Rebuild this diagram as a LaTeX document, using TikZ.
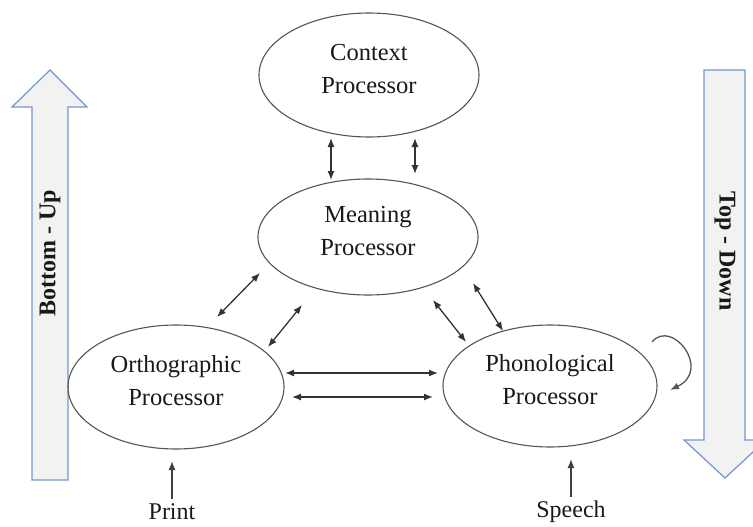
\documentclass[tikz,border=0pt]{standalone}
\usepackage{fontspec}
\setmainfont{Liberation Serif}
\usetikzlibrary{shapes.geometric,arrows.meta}
\definecolor{arrowblue}{RGB}{112,150,205}
\definecolor{arrowfill}{RGB}{242,242,242}
\definecolor{edgegray}{RGB}{85,85,85}
\definecolor{txt}{RGB}{25,25,25}
\begin{document}
\begin{tikzpicture}[x=1pt,y=-1pt,
  proc/.style={ellipse, draw=edgegray, line width=1.1pt, align=center, inner sep=0pt,
    text=txt, font=\fontsize{24.5}{33}\selectfont, text depth=13pt},
  link/.style={{Latex[length=9pt,width=7pt]}-{Latex[length=9pt,width=7pt]}, line width=1.3pt, draw=black!80},
  single/.style={-{Latex[length=9pt,width=7pt]}, line width=1.3pt, draw=black!75},
  bigarrow/.style={draw=arrowblue, fill=arrowfill, line width=1.2pt, line join=miter},
  sidetext/.style={font=\fontsize{24}{28}\selectfont\bfseries, text=txt},
  inputtext/.style={font=\fontsize{24}{28}\selectfont, text=txt}]
\useasboundingbox (0,0) rectangle (753,527);

% big side arrows
\draw[bigarrow] (32,480) -- (32,107) -- (12,107) -- (50,70) -- (87,107) -- (68,107) -- (68,480) -- cycle;
\draw[bigarrow] (704,70) -- (745,70) -- (745,440) -- (766,440) -- (725,478) -- (684,440) -- (704,440) -- cycle;
\node[sidetext, rotate=90] (bu) at (50,253) {Bottom - Up};
\node[sidetext, rotate=-90] (td) at (725,251) {Top - Down};

% processors
\node[proc, minimum width=220pt, minimum height=124pt] (ctx) at (369,75) {Context\\Processor};
\node[proc, minimum width=220pt, minimum height=116pt] (mean) at (368,237) {Meaning\\Processor};
\node[proc, minimum width=216pt, minimum height=124pt] (orth) at (176,387) {Orthographic\\Processor};
\node[proc, minimum width=214pt, minimum height=122pt] (phon) at (550,386) {Phonological\\Processor};

% inputs
\node[inputtext] (print) at (172,512) {Print};
\node[inputtext] (speech) at (571,512) {Speech};

% connector end points
\coordinate (c1a) at (331,138); \coordinate (c1b) at (331,180);
\coordinate (c2a) at (415,138); \coordinate (c2b) at (415,174);
\coordinate (m1a) at (217,317); \coordinate (m1b) at (260,273);
\coordinate (m2a) at (268,347); \coordinate (m2b) at (302,305);
\coordinate (p1a) at (433,300); \coordinate (p1b) at (466,342);
\coordinate (p2a) at (473,283); \coordinate (p2b) at (503,331);
\coordinate (h1a) at (285,373); \coordinate (h1b) at (438,373);
\coordinate (h2a) at (292,397); \coordinate (h2b) at (433,397);
\coordinate (pr) at (172,461); \coordinate (sp) at (571,459);
\coordinate (l1) at (652,342); \coordinate (l2) at (670,390);

\draw[link] (c1a) -- (c1b);
\draw[link] (c2a) -- (c2b);
\draw[link] (m1a) -- (m1b);
\draw[link] (m2a) -- (m2b);
\draw[link] (p1a) -- (p1b);
\draw[link] (p2a) -- (p2b);
\draw[link] (h1a) -- (h1b);
\draw[link] (h2a) -- (h2b);
\draw[single] (print.north) ++(0,-1) -- (pr);
\draw[single] (speech.north) ++(0,-1) -- (sp);
\draw[single, draw=edgegray] (l1) .. controls (672,318) and (712,370) .. (l2);
\end{tikzpicture}
\end{document}
